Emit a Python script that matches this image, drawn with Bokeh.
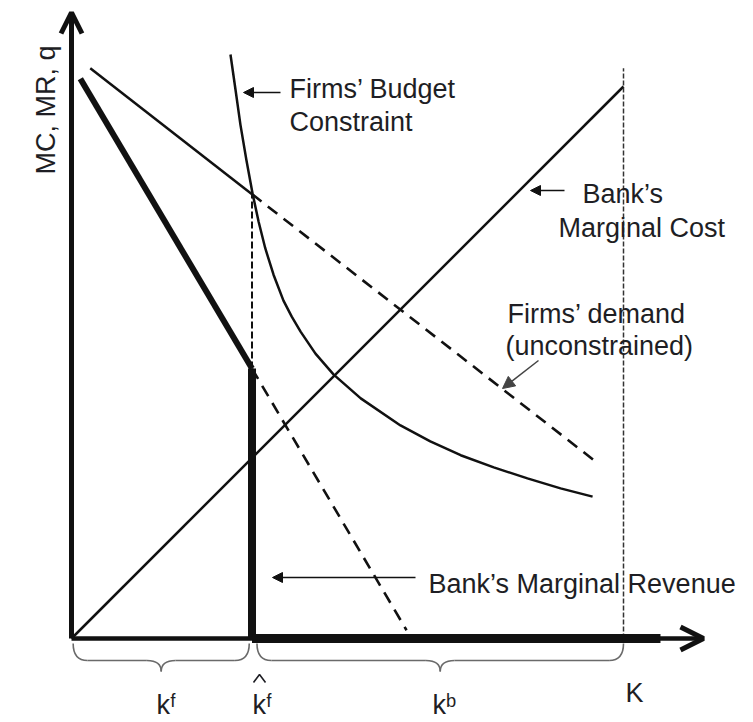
import math
from bokeh.plotting import figure
from bokeh.models import Range1d, Arrow, OpenHead, NormalHead, Label
from bokeh.embed import file_html
from bokeh.resources import INLINE

# ---------------- data (model units: x = K, y = MC / MR / q) ----------------
K_total = 10.0           # bank capital K
k_hat = 3.27             # constrained firm capital  k^f-hat
mr_tail = 10.67          # thick MR segment running along the axis

mc_x = [0.0, 10.0]                       # Bank's marginal cost
mc_y = [0.0, 10.0]

demand_x = [0.34, 3.27, 9.49]            # Firms' demand (unconstrained)
demand_y = [10.33, 8.05, 3.21]

mr_x = [0.16, 3.27, 6.07]                # Bank's marginal revenue
mr_y = [10.14, 4.89, 0.15]

budget_x = [2.88, 2.97, 3.06, 3.17, 3.28, 3.39, 3.51, 3.66, 3.84, 3.99, 4.15,
            4.42, 4.75, 5.24, 5.96, 6.50, 7.05, 7.65, 8.26, 8.86, 9.44]
budget_y = [10.58, 9.95, 9.31, 8.66, 8.06, 7.55, 7.07, 6.59, 6.12, 5.83, 5.56,
            5.16, 4.78, 4.35, 3.86, 3.57, 3.32, 3.10, 2.90, 2.72, 2.57]

k_line_top = 10.33        # top of dotted line at K

# ---------------- layout helpers ----------------
W, H = 745, 714
PX0, PY0, S = 71.0, 638.0, 55.2     # origin position (reference pixels) and px per unit


def m(px, py):
    """reference-pixel position -> model coordinates"""
    return (px - PX0) / S, (PY0 - py) / S


x0r, y1r = m(0, 0)
x1r, y0r = m(W, H)

p = figure(width=W, height=H, output_backend="svg", toolbar_location=None,
           x_range=Range1d(x0r, x1r), y_range=Range1d(y0r, y1r),
           x_axis_type=None, y_axis_type=None, min_border=0,
           outline_line_color=None, background_fill_color="white")
p.grid.visible = False

BLACK = "#111111"
TXT = "#1e1e24"
FONT = "Liberation Sans"
FS = 27

# ---------------- curves ----------------
p.line(mc_x, mc_y, line_width=2.5, line_color=BLACK)
p.line(budget_x, budget_y, line_width=2.5, line_color=BLACK, line_join="round")

p.line(demand_x[:2], demand_y[:2], line_width=2.5, line_color=BLACK)
p.line(demand_x[1:], demand_y[1:], line_width=2.6, line_color=BLACK, line_dash="12 8")

p.line(mr_x[1:], mr_y[1:], line_width=2.6, line_color=BLACK, line_dash="12 8")
p.line(mr_x[:2], mr_y[:2], line_width=6, line_color=BLACK)

# dashed verticals
p.line([k_hat, k_hat], [mr_y[1], demand_y[1]], line_width=2, line_color=BLACK, line_dash="7 3")
p.line([K_total, K_total], [0, k_line_top], line_width=1.5, line_color="#333333", line_dash="5 2")

# thick MR on vertical and along axis
p.line([k_hat, k_hat], [0, mr_y[1]], line_width=8, line_color=BLACK)
p.line([k_hat, mr_tail], [0, 0], line_width=9, line_color=BLACK)

# ---------------- axes ----------------
yx, ytop = m(71, 12)
xr, _ = m(703, 638)
p.add_layout(Arrow(x_start=0, y_start=0, x_end=0, y_end=ytop, line_width=5, line_color=BLACK,
                   end=OpenHead(size=21, line_width=5, line_color=BLACK)))
p.add_layout(Arrow(x_start=0, y_start=0, x_end=xr, y_end=0, line_width=4.5, line_color=BLACK,
                   end=OpenHead(size=23, line_width=5, line_color=BLACK)))

# ---------------- braces ----------------
BR = "#6a6a6a"
yt = m(0, 643)[1]
ym = m(0, 660)[1]
yb = m(0, 671)[1]
r = 0.26


def brace(xa, xb):
    xm = (xa + xb) / 2
    p.quadratic(x0=[xa, xm - r, xm, xb - r], y0=[yt, ym, yb, ym],
                x1=[xa + r, xm, xm + r, xb], y1=[ym, yb, ym, yt],
                cx=[xa, xm, xm, xb], cy=[ym, ym, ym, ym],
                line_color=BR, line_width=1.6)
    p.segment(x0=[xa + r, xm + r], y0=[ym, ym], x1=[xm - r, xb - r], y1=[ym, ym],
              line_color=BR, line_width=1.6)


brace(0.03, k_hat - 0.05)
brace(k_hat + 0.09, K_total)

# ---------------- labels ----------------


def lbl(text, px, py, size=FS, angle=0.0, color=TXT):
    x, y = m(px, py)
    p.add_layout(Label(x=x, y=y, text=text, text_font=FONT, text_font_size=f"{size}px",
                       text_color=color, text_baseline="alphabetic", text_align="left",
                       angle=angle))


lbl("MC, MR, q", 45, 174, angle=math.pi / 2)
lbl("Firms\u2019 Budget", 289, 88)
lbl("Constraint", 289, 121)
lbl("Bank\u2019s", 582, 193)
lbl("Marginal Cost", 558, 227)
lbl("Firms\u2019 demand", 507, 313)
lbl("(unconstrained)", 505, 345)
lbl("Bank\u2019s Marginal Revenue", 428, 583)
lbl("K", 625, 692)
lbl("k\u1da0", 156, 704)
lbl("k\u1da0", 252, 704)
lbl("k\u1d47", 432, 704)

# hat over k (drawn as a small chevron)
hx = [m(253, 0)[0], m(259, 0)[0], m(265, 0)[0]]
hy = [m(0, 682)[1], m(0, 674)[1], m(0, 682)[1]]
p.line(hx, hy, line_width=1.6, line_color=TXT)

# ---------------- annotation arrows ----------------


def arrow(p_from, p_to, color=BLACK, size=10, lw=1.5):
    xs, ys = m(*p_from)
    xe, ye = m(*p_to)
    p.add_layout(Arrow(x_start=xs, y_start=ys, x_end=xe, y_end=ye, line_width=lw, line_color=color,
                       end=NormalHead(size=size, fill_color=color, line_color=color, line_width=1)))


arrow((280, 92), (243, 92))
arrow((564, 190), (530, 190))
arrow((538, 360), (502, 388), color="#444444", size=12)
arrow((415, 577), (272, 577))

open("out.html", "w").write(file_html(p, INLINE))
